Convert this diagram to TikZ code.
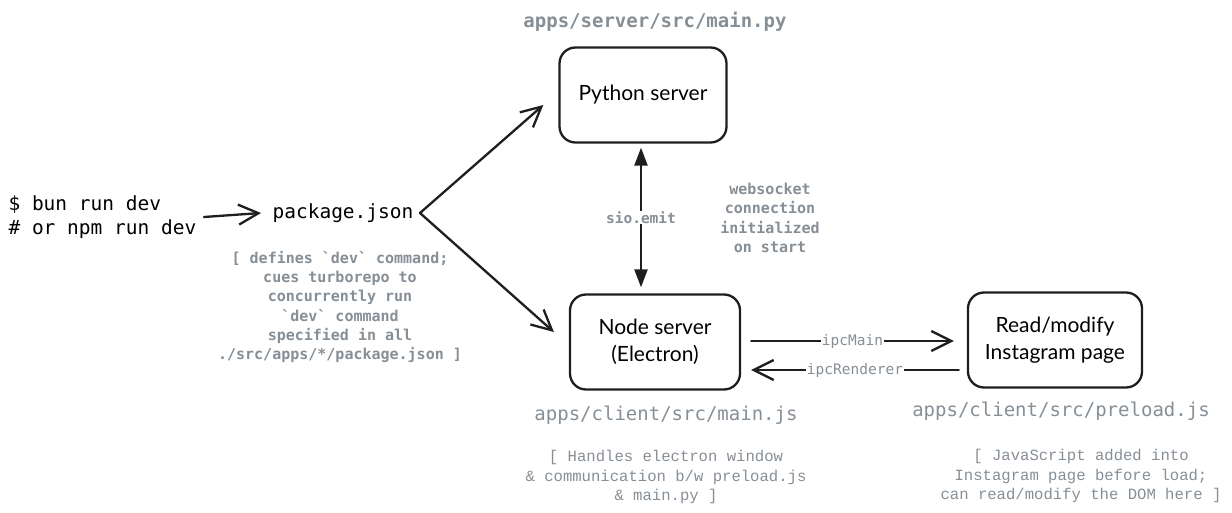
\documentclass[tikz,border=0pt]{standalone}
\usepackage{fontspec}
\setmonofont{DejaVu Sans Mono}
\newfontfamily\handfont{Lato}
\newfontfamily\notefont{Liberation Mono}
\usetikzlibrary{arrows.meta}
\definecolor{notegray}{HTML}{868E96}
\definecolor{inkblack}{HTML}{1E1E1E}

\tikzset{
  appbox/.style={draw=inkblack,line width=2.3pt,rounded corners=16pt,minimum width=#1,minimum height=95pt,
    align=center,font=\handfont\fontsize{21}{27}\selectfont},
  pathlabel/.style={text=notegray,font=\ttfamily\fontsize{19}{22}\selectfont},
  boldnote/.style={text=notegray,align=center,font=\ttfamily\bfseries\fontsize{15}{19.3}\selectfont},
  plainnote/.style={text=notegray,align=center,font=\notefont\fontsize{15.6}{19.5}\selectfont},
  wirelabel/.style={fill=white,inner sep=1pt,text=notegray,font=\ttfamily\fontsize{14.5}{16}\selectfont},
  flow/.style={line width=2.3pt,draw=inkblack,-{Straight Barb[length=20pt,width=20pt]}},
  wire/.style={line width=2.3pt,draw=inkblack,{Triangle[length=18pt,width=13pt]}-{Triangle[length=18pt,width=13pt]}}
}

\begin{document}
\begin{tikzpicture}[line cap=round,line join=round,x=1pt,y=-1pt]
  \useasboundingbox (0,0) rectangle (1232,513);

  % command and package.json
  \node[anchor=west,align=left,font=\ttfamily\fontsize{19.5}{24}\selectfont] (cmd) at (5,217) {\$ bun run dev\\\# or npm run dev};
  \node[font=\ttfamily\fontsize{19.5}{24}\selectfont] (pkg) at (343,213) {package.json};
  \node[boldnote] (pkgnote) at (340,307) {[ defines `dev` command;\\cues turborepo to\\concurrently run\\`dev` command\\specified in all\\./src/apps/*/package.json ]};

  % the three boxes
  \node[appbox=167pt] (py) at (643,95) {Python server};
  \node[appbox=170pt] (nd) at (655,342) {Node server\\(Electron)};
  \node[appbox=174pt] (ig) at (1055,340) {Read/modify\\Instagram page};

  % file labels
  \node[pathlabel,font=\ttfamily\bfseries\fontsize{19}{22}\selectfont] (pylbl) at (655,22) {apps/server/src/main.py};
  \node[pathlabel] (ndlbl) at (666,415) {apps/client/src/main.js};
  \node[pathlabel] (iglbl) at (1061,411) {apps/client/src/preload.js};
  \node[plainnote] (ndnote) at (666,477) {[ Handles electron window\\\& communication b/w preload.js\\\& main.py ]};
  \node[plainnote] (ignote) at (1081,476) {[ JavaScript added into\\Instagram page before load;\\can read/modify the DOM here ]};
  \node[boldnote] (wsnote) at (770,218) {websocket\\connection\\initialized\\on start};

  % connectors
  \draw[flow] ([xshift=4]cmd.east) -- ([xshift=-8]pkg.west);
  \draw[flow] ([xshift=3]pkg.east) -- ([shift={(-15,10)}]py.west);
  \draw[flow] ([xshift=3]pkg.east) -- ([shift={(-15,-10)}]nd.west);
  \draw[wire] ([shift={(-2,4)}]py.south) -- node[wirelabel,font=\ttfamily\bfseries\fontsize{14.5}{16}\selectfont] (sio) {sio.emit} ([shift={(-14,-6)}]nd.north);
  \draw[flow] ([shift={(10,-1)}]nd.east) -- node[wirelabel] (ipcm) {ipcMain} ([shift={(-13,1)}]ig.west);
  \draw[flow] ([shift={(-8,30)}]ig.west) -- node[wirelabel] (ipcr) {ipcRenderer} ([shift={(10,28)}]nd.east);
\end{tikzpicture}
\end{document}
